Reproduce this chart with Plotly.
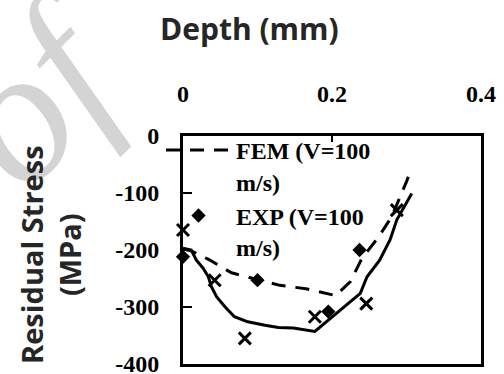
import plotly.graph_objects as go

# ---- data ----
fem_x = [0.0, 0.012, 0.035, 0.065, 0.10, 0.13, 0.165, 0.205, 0.225, 0.24, 0.262, 0.28, 0.30, 0.307]
fem_y = [-198, -202, -217, -240, -252, -262, -268, -280, -255, -215, -178, -142, -80, -55]

exp_x = [0.0, 0.10, 0.195, 0.237]
exp_y = [-212, -253, -308, -200]

sim2_x = [0.0, 0.011, 0.018, 0.027, 0.034, 0.038, 0.045, 0.056, 0.069, 0.087, 0.110, 0.128,
          0.148, 0.177, 0.238, 0.247, 0.264, 0.278, 0.287, 0.307]
sim2_y = [-197, -200, -218, -232, -247, -264, -282, -299, -317, -326, -332, -336,
          -337, -343, -276, -247, -218, -182, -147, -101]

exp2_x = [0.0, 0.0425, 0.083, 0.177, 0.246, 0.287]
exp2_y = [-165, -253, -355, -317, -294, -130]

x_ticks = [0, 0.2, 0.4]
x_ticktext = ["0", "0.2", "0.4"]
y_ticks = [0, -100, -200, -300, -400]
y_ticktext = ["0", "-100", "-200", "-300", "-400"]

serif = "Liberation Serif"
sans = "Open Sans"

fig = go.Figure()
fig.add_trace(go.Scatter(
    x=sim2_x, y=sim2_y, mode="lines", name="FEM",
    line=dict(color="black", width=3), showlegend=False))
fig.add_trace(go.Scatter(
    x=fem_x, y=fem_y, mode="lines", name="FEM (V=100<br>m/s)",
    line=dict(color="black", width=3, dash="14px,10px")))
fig.add_trace(go.Scatter(
    x=exp_x, y=exp_y, mode="markers", name="EXP (V=100<br>m/s)",
    marker=dict(symbol="diamond", size=11, color="black"), cliponaxis=False))
fig.add_trace(go.Scatter(
    x=exp2_x, y=exp2_y, mode="markers", name="EXP",
    marker=dict(symbol="x-thin", size=12, line=dict(width=3, color="black")),
    showlegend=False, cliponaxis=False))

# plot area in px: x 183..481, y 136..364
L, R, T, B = 183, 481, 136, 364
W, H = R - L, B - T
def px(xp):
    return (xp - L) / W
def py(yp):
    return (B - yp) / H

fig.update_layout(
    width=504, height=374,
    margin=dict(l=L, r=504 - R, t=T, b=374 - B, autoexpand=False),
    paper_bgcolor="white", plot_bgcolor="white",
    showlegend=True,
    legend=dict(
        x=px(161), y=py(128), xanchor="left", yanchor="top",
        bgcolor="rgba(0,0,0,0)", borderwidth=0,
        font=dict(family=serif, size=24, color="black", weight="bold"),
        itemwidth=65, valign="top", tracegroupgap=0,
    ),
    xaxis=dict(
        side="top", range=[0, 0.4], tickvals=x_ticks, ticktext=x_ticktext,
        ticks="inside", ticklen=6, tickwidth=1.5, tickcolor="black",
        showline=True, linewidth=3, linecolor="black", mirror=True,
        showgrid=False, zeroline=False, ticklabelstandoff=21,
        ticklabeloverflow="allow",
        tickfont=dict(family=serif, size=24, color="black", weight="bold"),
    ),
    yaxis=dict(
        range=[-400, 0], tickvals=y_ticks, ticktext=y_ticktext,
        ticks="inside", ticklen=9, tickwidth=1.5, tickcolor="black",
        showline=True, linewidth=3, linecolor="black", mirror=True,
        showgrid=False, zeroline=False, ticklabelstandoff=16,
        ticklabeloverflow="allow",
        tickfont=dict(family=serif, size=24, color="black", weight="bold"),
    ),
    annotations=[
        dict(text="of", xref="paper", yref="paper", x=px(38), y=py(92),
             xanchor="center", yanchor="middle", showarrow=False, textangle=-45,
             font=dict(family=serif, size=190, color="#d4d4d4", style="italic")),
        dict(text="Depth (mm)", xref="paper", yref="paper", x=px(249), y=py(28),
             xanchor="center", yanchor="middle", showarrow=False,
             font=dict(family=sans, size=30, color="#262626", weight="bold")),
        dict(text="Residual Stress<br>(MPa)", xref="paper", yref="paper", x=px(50), y=py(255),
             xanchor="center", yanchor="middle", showarrow=False, textangle=-90,
             font=dict(family=sans, size=29, color="#262626", weight="bold")),
    ],
)

fig.write_html("out.html")
